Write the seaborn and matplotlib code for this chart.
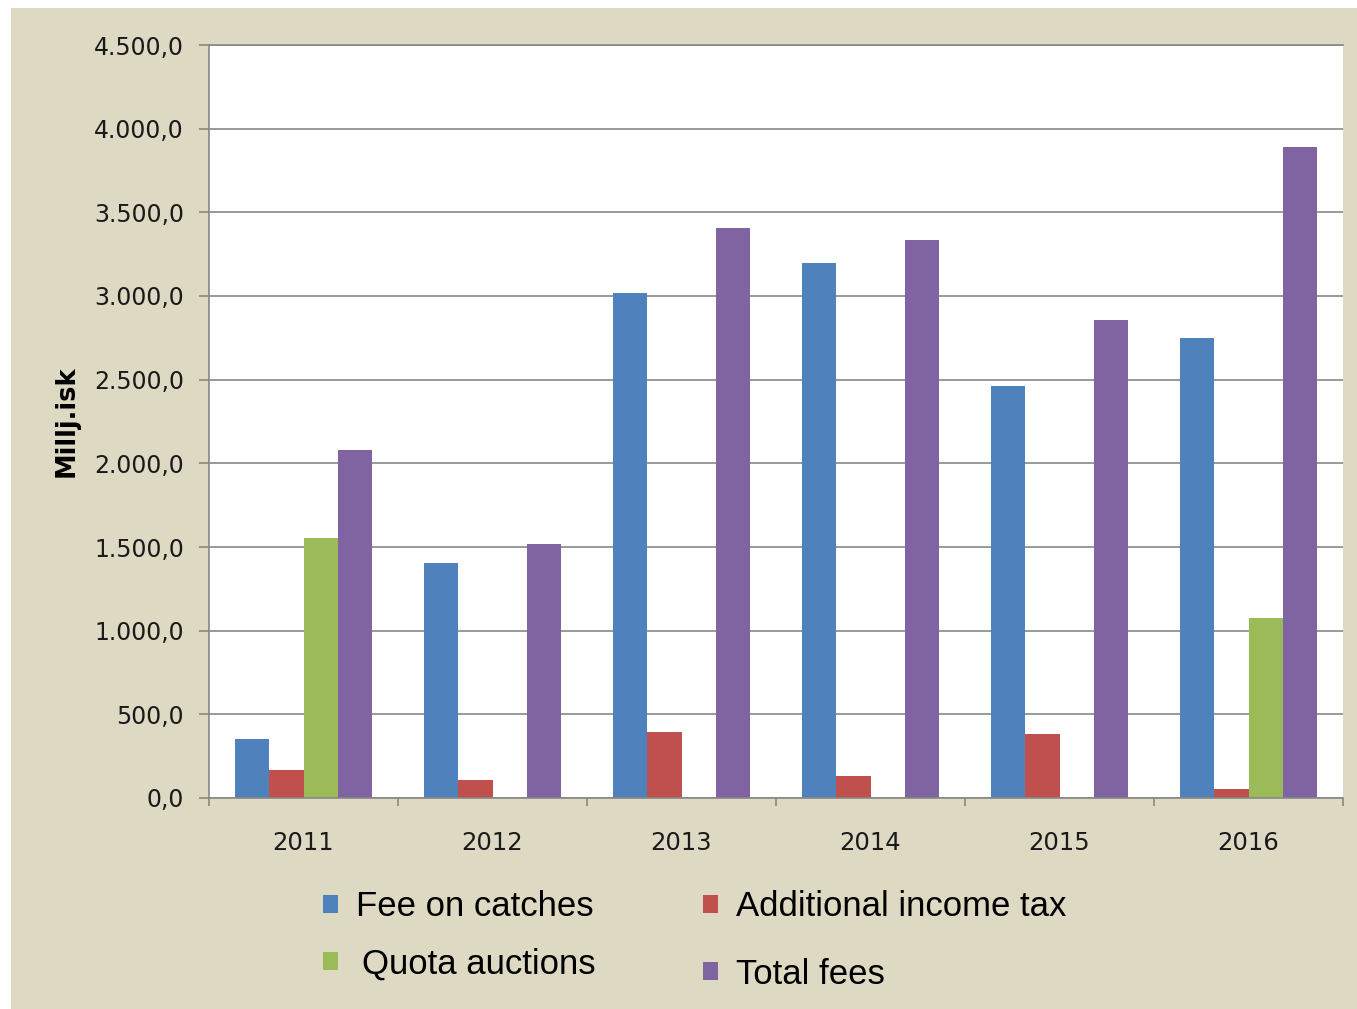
import matplotlib
matplotlib.use("Agg")
import matplotlib.pyplot as plt
from matplotlib.patches import Rectangle, Patch
from matplotlib.ticker import FixedLocator, FuncFormatter
import seaborn as sns
import pandas as pd

# Data (million ISK)
years = ["2011", "2012", "2013", "2014", "2015", "2016"]
fee_on_catches = [350, 1405, 3015, 3200, 2465, 2750]
additional_income_tax = [170, 105, 395, 130, 380, 55]
quota_auctions = [1555, 0, 0, 0, 0, 1075]
total_fees = [2080, 1515, 3405, 3335, 2855, 3890]

series_names = ["Fee on catches", "Additional income tax", "Quota auctions", "Total fees"]
series_values = [fee_on_catches, additional_income_tax, quota_auctions, total_fees]
series_colors = ["#4F81BD", "#C0504D", "#9BBB59", "#8064A2"]

rows = []
for name, vals in zip(series_names, series_values):
    for y, v in zip(years, vals):
        rows.append({"Year": y, "Series": name, "Value": v})
df = pd.DataFrame(rows)

sns.set_theme(style="white")
plt.rcParams["font.family"] = ["DejaVu Sans"]

BG = "#DDD9C3"
GRID = "#878787"

fig = plt.figure(figsize=(13.57, 10.09), dpi=100, facecolor=BG)
ax = fig.add_axes([209 / 1357, 1 - 798 / 1009, (1343 - 209) / 1357, (798 - 45) / 1009])
ax.set_facecolor("white")

sns.barplot(data=df, x="Year", y="Value", hue="Series", hue_order=series_names,
            order=years, palette=series_colors, width=0.73, saturation=1,
            edgecolor="none", linewidth=0, ax=ax, legend=False, errorbar=None)

ax.set_xlim(-0.5, len(years) - 0.5)
ax.set_ylim(0, 4500)
ax.set_yticks(range(0, 4501, 500))
ax.yaxis.set_major_formatter(FuncFormatter(
    lambda v, p: f"{v:,.1f}".replace(",", "X").replace(".", ",").replace("X", ".")))
ax.yaxis.grid(True, color=GRID, linewidth=1.2)
ax.set_axisbelow(True)

# Category boundary ticks on the x axis
ax.xaxis.set_minor_locator(FixedLocator([i - 0.5 for i in range(len(years) + 1)]))
ax.tick_params(axis="x", which="major", length=0, pad=24, labelsize=17.5, labelcolor="#1a1a1a")
ax.tick_params(axis="x", which="minor", bottom=True, length=6, width=1.2, color=GRID, direction="out")
ax.tick_params(axis="y", which="major", left=True, length=7, width=1.2, color=GRID,
               direction="out", pad=11, labelsize=17, labelcolor="#1a1a1a")

for side in ["left", "bottom", "top"]:
    ax.spines[side].set_visible(True)
    ax.spines[side].set_color(GRID)
    ax.spines[side].set_linewidth(1.2)
ax.spines["right"].set_visible(False)

ax.set_xlabel("")
ax.set_ylabel("Millj.isk", fontsize=18.5, fontweight="bold", color="black")
ax.yaxis.set_label_coords(-0.1144, 0.5)

# Legend entries placed individually
handles = {n: Patch(facecolor=c, edgecolor="none") for n, c in zip(series_names, series_colors)}
legend_spots = [
    ("Fee on catches", 323, 907, 0.53),
    ("Additional income tax", 703, 907, 0.53),
    ("Quota auctions", 323, 964, 0.69),
    ("Total fees", 703, 974, 0.53),
]
for label, px, py, tpad in legend_spots:
    fig.legend(handles=[handles[label]], labels=[label], loc="center left",
               bbox_to_anchor=(px / 1357, 1 - py / 1009), frameon=False,
               handlelength=0.42, handleheight=0.42, handletextpad=tpad,
               borderaxespad=0, borderpad=0, labelcolor="black",
               prop={"family": "Liberation Sans", "size": 25})

# White margins along the left and top edges
fig.patches.append(Rectangle((0, 0), 11 / 1357, 1, transform=fig.transFigure,
                             facecolor="white", edgecolor="none", zorder=-1))
fig.patches.append(Rectangle((0, 1 - 8 / 1009), 1, 8 / 1009, transform=fig.transFigure,
                             facecolor="white", edgecolor="none", zorder=-1))

fig.savefig("out.png", dpi=100, facecolor=BG)
